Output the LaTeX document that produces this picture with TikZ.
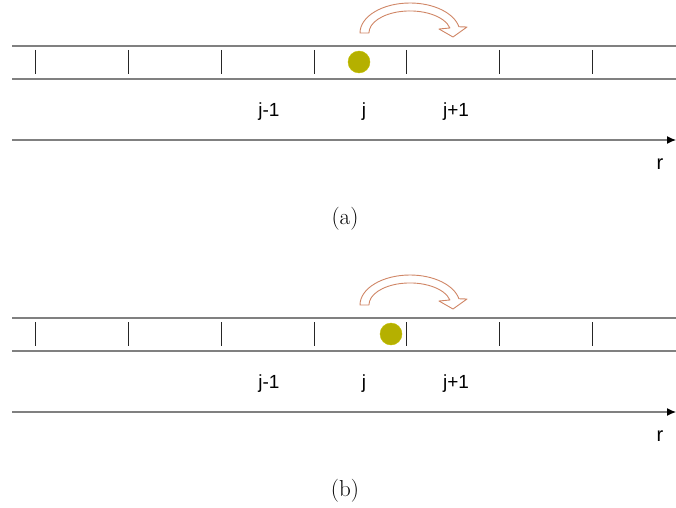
\documentclass[tikz,border=0pt]{standalone}
\usepackage{fontspec}
\newfontfamily\arial{Liberation Sans}
\usetikzlibrary{arrows.meta}
\definecolor{dotc}{HTML}{B5B000}
\definecolor{arrc}{HTML}{D08666}
\definecolor{linec}{HTML}{808080}
\tikzset{
  stripline/.style={draw=linec, line width=1.2pt},
  tickline/.style={draw=black!85, line width=0.8pt},
  axisline/.style={draw=linec, line width=1.2pt, -{Latex[length=9pt,width=8pt,black]}},
  lbl/.style={font=\arial\fontsize{19}{22}\selectfont, inner sep=0pt},
  rlbl/.style={font=\arial\fontsize{20}{23}\selectfont, inner sep=0pt},
  captext/.style={font=\fontsize{23}{26}\selectfont, inner sep=0pt},
  particle/.style={circle, fill=dotc, draw=dotc!80!yellow, minimum size=22pt, inner sep=0pt},
  hop/.style={draw=arrc, fill=white, line width=0.9pt, line join=round}
}
\newcommand{\panel}[4]{%
  % #1 yshift, #2 dot x, #3 caption, #4 prefix
  \begin{scope}[yshift=#1]
    \coordinate (#4sl1) at (12,461); \coordinate (#4sr1) at (676,461);
    \coordinate (#4sl2) at (12,428); \coordinate (#4sr2) at (676,428);
    \draw[stripline] (#4sl1) -- (#4sr1);
    \draw[stripline] (#4sl2) -- (#4sr2);
    \foreach \x [count=\i] in {35,128,221,314,406,499,592}{
      \coordinate (#4tt\i) at (\x,457); \coordinate (#4tb\i) at (\x,433);
      \draw[tickline] (#4tt\i) -- (#4tb\i);
    }
    \node[particle] (#4dot) at (#2,445) {};
    \node[lbl] (#4jm) at (269,395) {j-1};
    \node[lbl] (#4j) at (364,395) {j};
    \node[lbl] (#4jp) at (456,395) {j+1};
    \coordinate (#4ax0) at (12,367); \coordinate (#4ax1) at (676,367);
    \draw[axisline] (#4ax0) -- (#4ax1);
    \node[rlbl] (#4r) at (660,343) {r};
    \node[captext] (#4cap) at (345,288) {#3};
    \draw[hop] (360,474) arc[start angle=180,end angle=12,x radius=50,y radius=30]
      -- (467,480) -- (453,470) -- (439,478) -- (449.9,479)
      arc[start angle=13,end angle=180,x radius=41,y radius=22] -- cycle;
  \end{scope}}
\begin{document}
\begin{tikzpicture}[x=1pt,y=1pt]
  \useasboundingbox (0,0) rectangle (676,507);
  \panel{0pt}{359}{(a)}{a}
  \panel{-272pt}{391}{(b)}{b}
\end{tikzpicture}
\end{document}
